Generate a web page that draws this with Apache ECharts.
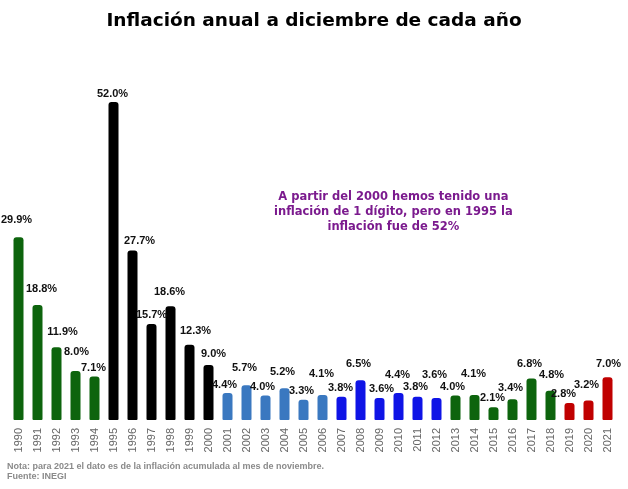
<!DOCTYPE html>
<html>
<head>
<meta charset="utf-8">
<script src="https://cdn.jsdelivr.net/npm/echarts@6/dist/echarts.min.js"></script>
<style>
  html, body { margin: 0; padding: 0; background: #fff; }
  #container { width: 628px; height: 489px; }
</style>
</head>
<body>
<div id="container"></div>
<script>
let years = ['1990','1991','1992','1993','1994','1995','1996','1997','1998','1999','2000',
    '2001','2002','2003','2004','2005','2006','2007','2008','2009','2010','2011','2012',
    '2013','2014','2015','2016','2017','2018','2019','2020','2021'];
let inflation = [29.9, 18.8, 11.9, 8.0, 7.1, 52.0, 27.7, 15.7, 18.6, 12.3, 9.0,
    4.4, 5.7, 4.0, 5.2, 3.3, 4.1, 3.8, 6.5, 3.6, 4.4, 3.8, 3.6,
    4.0, 4.1, 2.1, 3.4, 6.8, 4.8, 2.8, 3.2, 7.0];

// label placement tweaks (px): gap above bar top, horizontal shift
let labelGap = [18, 17, 16, 20, 9, 9, 10, 10, 15, 14, 11,
    9, 18, 9, 17, 9, 21, 9, 17, 10, 19, 10, 24,
    9, 21, 10, 12, 15, 16, 9, 16, 14];
let labelDx = [-2, 4, 6, 1, -1, -1, 7, 0, -1, 6, 5,
    -3, -2, -3, -2, -2, -1, -1, -2, 2, -1, -2, -2,
    -3, -1, -1, -2, -2, 1, -6, -2, 1];

// color by year group
function barColor(year) {
    let y = parseInt(year);
    if (y <= 1994) return '#0d640d';
    if (y <= 2000) return '#000000';
    if (y <= 2006) return '#3a78c0';
    if (y <= 2012) return '#0f14e6';
    if (y <= 2018) return '#0d640d';
    return '#c00000';
}

let dom = document.getElementById("container");
let myChart = echarts.init(dom);

let option = {
    backgroundColor: '#ffffff',
    animation: false,
    title: {
        text: 'Inflación anual a diciembre de cada año',
        left: 'center',
        top: 7,
        textStyle: {
            fontFamily: 'DejaVu Sans',
            fontSize: 18.5,
            fontWeight: 'bold',
            color: '#000'
        }
    },
    grid: {
        left: 9,
        right: 11,
        top: 102,
        bottom: 69
    },
    xAxis: {
        type: 'category',
        data: years,
        axisLine: {show: false},
        axisTick: {show: false},
        axisLabel: {
            rotate: 90,
            interval: 0,
            margin: 8,
            color: '#666',
            fontFamily: 'Liberation Sans',
            fontSize: 11
        }
    },
    yAxis: {
        type: 'value',
        min: 0,
        max: 52,
        show: false
    },
    graphic: [
        {
            type: 'text',
            left: 274,
            top: 190,
            style: {
                text: 'A partir del 2000 hemos tenido una\ninflación de 1 dígito, pero en 1995 la\ninflación fue de 52%',
                textAlign: 'center',
                fill: '#7b1a8e',
                font: 'bold 11.5px "DejaVu Sans"',
                lineHeight: 15
            }
        },
        {
            type: 'text',
            left: 7,
            top: 462,
            style: {
                text: 'Nota: para 2021 el dato es de la inflación acumulada al mes de noviembre.\nFuente: INEGI',
                fill: '#8a8a8a',
                font: 'bold 9px "Liberation Sans"',
                lineHeight: 10
            }
        }
    ],
    series: [
        {
            type: 'bar',
            barWidth: 10,
            data: inflation.map(function (v, i) {
                return {
                    value: v,
                    itemStyle: {color: barColor(years[i])},
                    label: {offset: [labelDx[i], -(labelGap[i] - 6)]}
                };
            }),
            itemStyle: {
                borderRadius: [3, 3, 1, 1]
            },
            label: {
                show: true,
                position: 'top',
                distance: 0,
                formatter: function (params) {
                    return params.value.toFixed(1) + '%';
                },
                color: '#111',
                fontFamily: 'Liberation Sans',
                fontWeight: 'bold',
                fontSize: 11
            }
        }
    ]
};
if (option && typeof option === "object") {
    myChart.setOption(option, true);
}
</script>
</body>
</html>
